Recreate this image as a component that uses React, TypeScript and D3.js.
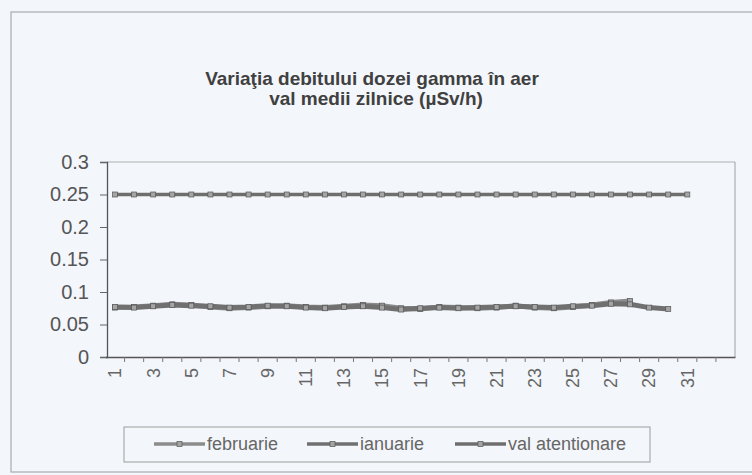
import React, { useEffect, useRef } from 'react';
import * as d3 from 'd3';

// zile (categorii), 33 de poziții pe axă, etichete doar pentru zilele impare până la 31
const days = d3.range(1, 34);
const yTicks = [0, 0.05, 0.1, 0.15, 0.2, 0.25, 0.3];

const februarie = [0.076, 0.077, 0.079, 0.081, 0.08, 0.077, 0.075, 0.076, 0.078, 0.079, 0.077, 0.076, 0.078, 0.08,
  0.079, 0.075, 0.074, 0.077, 0.076, 0.075, 0.076, 0.079, 0.076, 0.075, 0.077, 0.08, 0.084, 0.086];
const ianuarie = [0.077, 0.076, 0.078, 0.08, 0.079, 0.078, 0.076, 0.077, 0.079, 0.078, 0.076, 0.075, 0.077, 0.078,
  0.076, 0.073, 0.075, 0.076, 0.075, 0.076, 0.077, 0.078, 0.077, 0.076, 0.078, 0.079, 0.082, 0.081, 0.076, 0.074];
const valAtentionare = d3.range(31).map(() => 0.25);

const seriesNames = ['februarie', 'ianuarie', 'val atentionare'];
const seriesValues = [februarie, ianuarie, valAtentionare];
const seriesColors = ['#8c8c8c', '#707070', '#6e6e6e'];

const App = () => {
  const svgRef = useRef<SVGSVGElement>(null);

  useEffect(() => {
    const svg = d3.select(svgRef.current);
    svg.selectAll('*').remove();
    const font = 'Liberation Sans, Arial, sans-serif';

    svg.append('rect').attr('width', 752).attr('height', 475).attr('fill', '#f3f6fb');
    // chenarul graficului
    svg.append('rect')
      .attr('x', 11).attr('y', 12).attr('width', 760).attr('height', 460)
      .attr('fill', 'none').attr('stroke', '#a9abae').attr('stroke-width', 1.2);

    const left = 107, right = 735, top = 162, bottom = 357;

    const x = d3.scaleBand<number>().domain(days).range([left - 1.5, right]).padding(0);
    const y = d3.scaleLinear().domain([0, 0.3]).range([bottom, top]);

    // titlu
    const title = svg.append('text')
      .attr('text-anchor', 'middle').attr('font-family', font).attr('font-weight', 'bold')
      .attr('font-size', 19).attr('fill', '#404040');
    title.append('tspan').attr('x', 372).attr('y', 85).text('Variaţia debitului dozei gamma în aer');
    title.append('tspan').attr('x', 376).attr('y', 105).text('val medii zilnice (µSv/h)');

    // zona graficului
    svg.append('line').attr('x1', left).attr('x2', right).attr('y1', top).attr('y2', top)
      .attr('stroke', '#b0b0b0').attr('stroke-width', 1);
    svg.append('line').attr('x1', right).attr('x2', right).attr('y1', top).attr('y2', bottom)
      .attr('stroke', '#a0a0a0').attr('stroke-width', 1);

    // axa Y
    const yAxis = svg.append('g')
      .attr('transform', `translate(${left},0)`)
      .call(d3.axisLeft(y).tickValues(yTicks).tickSize(7).tickPadding(11).tickFormat(d => String(d)));
    yAxis.select('.domain').attr('stroke', '#555').attr('stroke-width', 1.3);
    yAxis.selectAll('.tick line').attr('stroke', '#666');
    yAxis.selectAll('text').attr('font-family', font).attr('font-size', 20).attr('fill', '#555');

    // axa X
    const xAxis = svg.append('g')
      .attr('transform', `translate(0,${bottom})`)
      .call(d3.axisBottom(x).tickSize(0).tickFormat(d => (d <= 31 && d % 2 === 1 ? String(d) : '')));
    xAxis.select('.domain').attr('stroke', '#555').attr('stroke-width', 1.3);
    xAxis.selectAll('text')
      .attr('font-family', font).attr('font-size', 18).attr('fill', '#666')
      .attr('transform', 'rotate(-90)')
      .attr('text-anchor', 'end')
      .attr('x', -11).attr('y', 0).attr('dy', '0.35em');
    xAxis.selectAll('.cat-tick')
      .data(days.slice(1))
      .enter().append('line')
      .attr('x1', d => x(d)!).attr('x2', d => x(d)!)
      .attr('y1', 0).attr('y2', 5)
      .attr('stroke', '#777');

    // seriile
    const line = d3.line<number>()
      .x((_, i) => x(i + 1)! + x.bandwidth() / 2)
      .y(d => y(d));

    seriesValues.forEach((vals, si) => {
      const g = svg.append('g');
      g.append('path')
        .datum(vals)
        .attr('fill', 'none')
        .attr('stroke', seriesColors[si])
        .attr('stroke-width', si === 2 ? 3.5 : 5)
        .attr('d', line);
      g.selectAll('rect')
        .data(vals)
        .enter().append('rect')
        .attr('x', (_, i) => x(i + 1)! + x.bandwidth() / 2 - 2.5)
        .attr('y', d => y(d) - 2.5)
        .attr('width', 5).attr('height', 5)
        .attr('fill', '#a5a5a5')
        .attr('stroke', '#555').attr('stroke-width', 0.7);
    });

    // legenda
    svg.append('rect')
      .attr('x', 124).attr('y', 427).attr('width', 526).attr('height', 35)
      .attr('fill', 'none').attr('stroke', '#9c9c9c').attr('stroke-width', 1);
    const legendX = [154, 307, 455];
    seriesNames.forEach((name, si) => {
      const lg = svg.append('g').attr('transform', `translate(${legendX[si]},444)`);
      lg.append('line').attr('x1', 0).attr('x2', 51).attr('y1', 0).attr('y2', 0)
        .attr('stroke', seriesColors[si]).attr('stroke-width', 3.5);
      lg.append('rect').attr('x', 23).attr('y', -2.5).attr('width', 5).attr('height', 5)
        .attr('fill', '#a5a5a5').attr('stroke', '#555').attr('stroke-width', 0.7);
      lg.append('text')
        .attr('x', 53).attr('y', 0).attr('dy', '0.35em')
        .attr('font-family', font).attr('font-size', 18).attr('fill', '#666')
        .text(name);
    });
  }, []);

  return (
    <svg ref={svgRef} width={752} height={475} style={{ position: 'absolute', left: 0, top: 0 }} />
  );
};

export default App;
